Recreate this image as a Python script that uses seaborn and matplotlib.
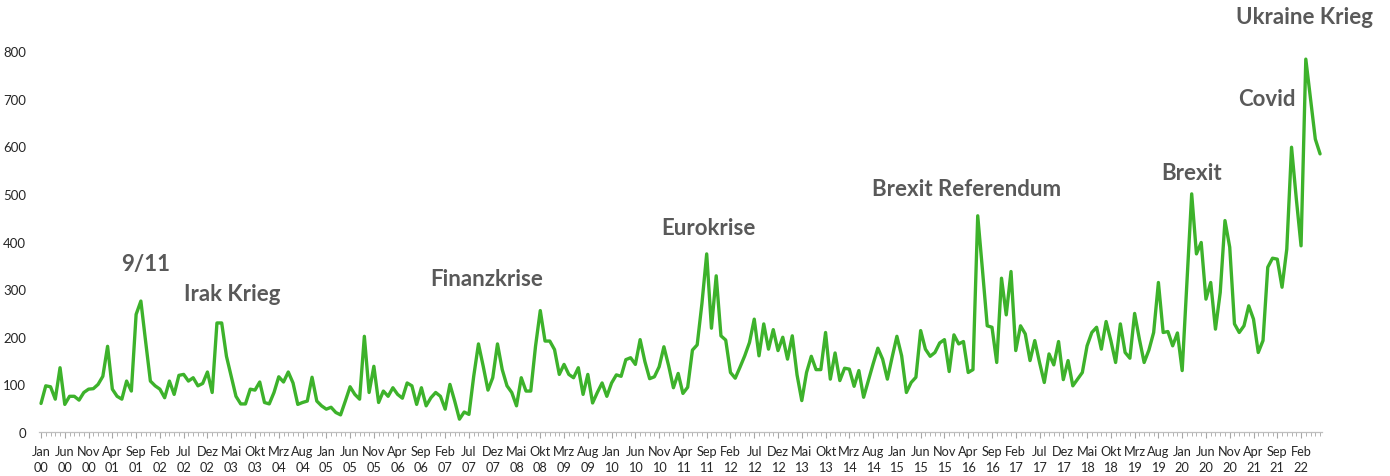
import matplotlib
matplotlib.use("Agg")
import matplotlib.pyplot as plt
import seaborn as sns
import pandas as pd
import numpy as np
from matplotlib.ticker import MultipleLocator

# ---- data (monthly, Jan 2000 .. Jun 2022) ----
month_names = ["Jan", "Feb", "Mrz", "Apr", "Mai", "Jun",
               "Jul", "Aug", "Sep", "Okt", "Nov", "Dez"]
start_year = 2000

values = [
    60, 97, 95, 69, 135, 58, 75, 75, 67, 83, 90, 91,            # 2000
    100, 117, 180, 90, 75, 69, 107, 86, 247, 275, 190, 107,     # 2001
    97, 90, 72, 107, 79, 119, 121, 107, 114, 97, 102, 126,      # 2002
    83, 229, 229, 159, 117, 75, 59, 59, 90, 88, 105, 62,        # 2003
    59, 83, 116, 105, 126, 103, 58, 62, 65, 115, 65, 55,        # 2004
    48, 52, 41, 36, 65, 95, 79, 69, 201, 83, 138, 62,           # 2005
    86, 75, 93, 79, 71, 103, 97, 58, 93, 55, 72, 83,            # 2006
    75, 48, 100, 65, 27, 42, 37, 117, 185, 138, 88, 114,        # 2007
    185, 131, 97, 83, 55, 114, 86, 86, 180, 255, 191, 191,      # 2008
    173, 121, 142, 121, 114, 135, 79, 121, 61, 83, 103, 75,     # 2009
    103, 120, 117, 152, 156, 142, 194, 148, 112, 116, 137, 179, # 2010
    139, 93, 123, 81, 94, 172, 183, 270, 374, 218, 328, 202,    # 2011
    193, 125, 113, 136, 160, 188, 237, 160, 227, 174, 215, 171, # 2012
    199, 153, 202, 120, 66, 125, 159, 131, 131, 209, 111, 166,  # 2013
    108, 134, 132, 96, 129, 73, 108, 143, 176, 153, 111, 157,   # 2014
    201, 160, 83, 104, 115, 213, 174, 159, 167, 187, 194, 127,  # 2015
    204, 185, 190, 125, 131, 454, 340, 223, 220, 146, 323, 246, # 2016
    337, 171, 223, 206, 150, 192, 146, 104, 164, 141, 190, 110, # 2017
    150, 97, 111, 125, 181, 209, 220, 174, 232, 192, 146, 227,  # 2018
    167, 155, 249, 195, 146, 172, 209, 314, 209, 211, 181, 208, # 2019
    129, 315, 500, 374, 398, 279, 314, 216, 293, 444, 388, 227, # 2020
    209, 223, 265, 237, 167, 192, 346, 365, 363, 304, 384, 598, # 2021
    490, 391, 783, 699, 615, 584,                               # 2022
]

events = ["9/11", "Irak Krieg", "Finanzkrise", "Eurokrise",
          "Brexit Referendum", "Brexit", "Covid", "Ukraine Krieg"]
event_month = [21.9, 40.2, 93.8, 140.3, 194.7, 241.9, 257.8, 265.8]
event_value = [353, 290, 323, 430, 512, 544, 701, 873]

tick_step = 5

# ---- build table ----
df = pd.DataFrame({"monat": np.arange(len(values)), "wert": values})

tick_pos = list(range(0, len(values), tick_step))
tick_labels = [f"{month_names[p % 12]}\n{(start_year + p // 12) % 100:02d}"
               for p in tick_pos]

# ---- plot ----
sns.set_theme(style="white")
plt.rcParams["font.family"] = ["Lato", "DejaVu Sans"]

fig = plt.figure(figsize=(13.9, 4.77), dpi=100)
ax = fig.add_axes([0.0278, 0.0922, 0.9236, 0.8986])

sns.lineplot(data=df, x="monat", y="wert", ax=ax,
             color="#3DB22B", linewidth=2.4)

ax.set_xlim(-0.5, len(values) - 0.5)
ax.set_ylim(0, 900)
ax.set_yticks(range(0, 801, 100))
ax.set_xticks(tick_pos)
ax.set_xticklabels(tick_labels, linespacing=1.4)
ax.xaxis.set_minor_locator(MultipleLocator(1))

ax.tick_params(axis="x", which="major", length=4, width=0.8, color="#A6A6A6",
               labelsize=9.2, labelcolor="#262626", pad=5, direction="out",
               bottom=True)
ax.tick_params(axis="x", which="minor", length=3, width=0.6, color="#A6A6A6",
               bottom=True)
ax.tick_params(axis="y", length=0, labelsize=9.5, labelcolor="#262626", pad=9)

for s in ["top", "right", "left"]:
    ax.spines[s].set_visible(False)
ax.spines["bottom"].set_color("#BFBFBF")
ax.spines["bottom"].set_linewidth(0.9)

ax.set_xlabel("")
ax.set_ylabel("")
ax.grid(False)

for name, mx, vy in zip(events, event_month, event_value):
    ax.text(mx, vy, name, ha="center", va="center", fontsize=16,
            fontweight="bold", color="#595959")

fig.savefig("out.png", dpi=100)
